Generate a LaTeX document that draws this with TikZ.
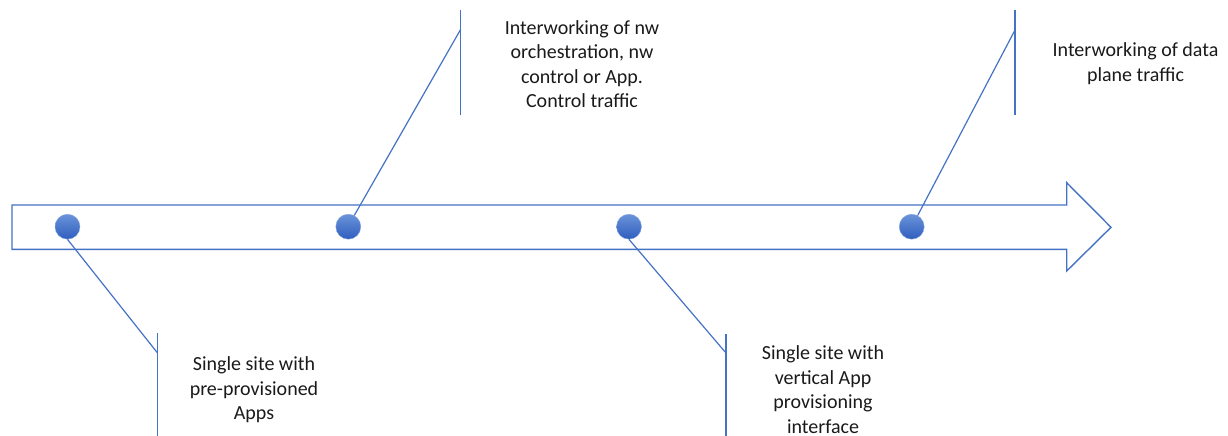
\documentclass[tikz,border=0pt]{standalone}
\usepackage{fontspec}
\setmainfont{Carlito}
\definecolor{lineblue}{HTML}{4472C4}
\definecolor{dottop}{HTML}{6A93D9}
\definecolor{dotbot}{HTML}{2F5EBE}
\definecolor{dotedge}{HTML}{8AA8E0}
\definecolor{txt}{HTML}{1A1A1A}
\begin{document}
\begin{tikzpicture}[x=1pt,y=-1pt,
  milestone/.style={circle,minimum size=25pt,inner sep=0pt,
    top color=dottop,bottom color=dotbot,draw=dotedge,line width=0.4pt},
  leader/.style={draw=lineblue,line width=1.2pt},
  caption/.style={align=center,text=txt,inner sep=0pt,
    font=\fontsize{20}{24.5}\selectfont}]
\useasboundingbox (0,0) rectangle (1228,436);

% timeline arrow
\draw[lineblue,line width=1.4pt,line join=miter]
  (12,205) -- (1066.7,205) -- (1066.7,182.7) -- (1111,227.3)
  -- (1066.7,271) -- (1066.7,249.3) -- (12,249.3) -- cycle;

% milestones on the timeline
\node[milestone] (d1) at (67.5,226.7) {};
\node[milestone] (d2) at (348.3,226.7) {};
\node[milestone] (d3) at (629,226.7) {};
\node[milestone] (d4) at (911.7,226.7) {};

% callout bends and bar ends
\coordinate (k1) at (157.3,352.7);
\coordinate (b1t) at (157.3,333);
\coordinate (b1b) at (157.3,436);
\coordinate (k2) at (460.7,29.3);
\coordinate (b2t) at (460.7,10);
\coordinate (b2b) at (460.7,115);
\coordinate (k3) at (726,353);
\coordinate (b3t) at (726,334);
\coordinate (b3b) at (726,436);
\coordinate (k4) at (1015,30);
\coordinate (b4t) at (1015,10);
\coordinate (b4b) at (1015,115);

% callout leaders
\draw[leader] (d1.south) -- (k1);
\draw[leader] (b1t) -- (b1b);
\draw[leader] (d2.62) -- (k2);
\draw[leader] (b2t) -- (b2b);
\draw[leader] (d3.south) -- (k3);
\draw[leader] (b3t) -- (b3b);
\draw[leader] (d4.62) -- (k4);
\draw[leader] (b4t) -- (b4b);

% captions
\node[caption] (t1) at (254,390) {Single site with\\pre-provisioned\\Apps};
\node[caption] (t2) at (582,64) {Interworking of nw\\orchestration, nw\\control or App.\\Control traffic};
\node[caption] (t3) at (823,389.5) {Single site with\\vertical App\\provisioning\\interface};
\node[caption] (t4) at (1135.5,63.5) {Interworking of data\\plane traffic};
\end{tikzpicture}
\end{document}
